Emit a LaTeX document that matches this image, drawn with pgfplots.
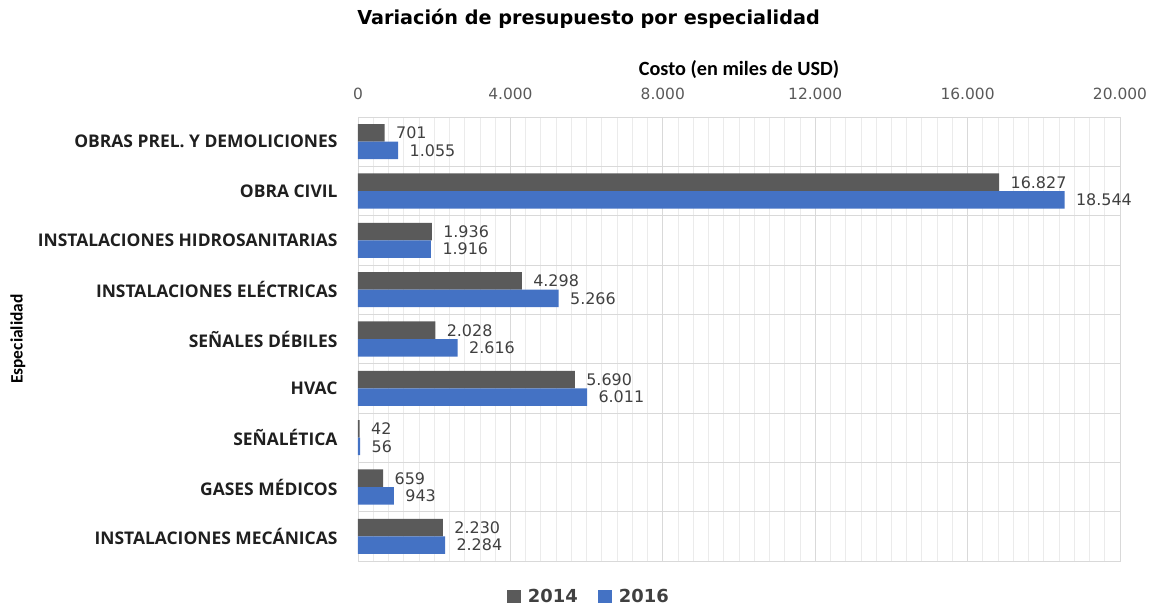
\documentclass[border=0pt]{standalone}
\usepackage{fontspec}
\setmainfont{DejaVu Sans}
\newfontfamily\osans{Open Sans}
\newfontfamily\carl{Carlito}
\usepackage{pgfplots}
\pgfplotsset{compat=1.18}
\definecolor{cgray}{HTML}{5A5A5A}
\definecolor{cblue}{HTML}{4472C4}
\definecolor{gmaj}{HTML}{D9D9D9}
\definecolor{gmin}{HTML}{EBEBEB}
\definecolor{tgray}{HTML}{595959}
\definecolor{vgray}{HTML}{404040}
\begin{document}
\begin{tikzpicture}
\path[use as bounding box] (-358bp,-44bp) rectangle (792bp,561bp);
\begin{axis}[
  at={(0,0)}, anchor=south west,
  scale only axis, width=762bp, height=444bp,
  xbar, bar width=0.355,
  y dir=reverse,
  xmin=0, xmax=20000, ymin=-0.5, ymax=8.5,
  xtick={0,4000,8000,12000,16000,20000},
  minor x tick num=9,
  xmajorgrids, xminorgrids,
  major grid style={gmaj, line width=0.8bp},
  minor grid style={gmin, line width=0.8bp},
  major tick length=0pt, minor tick length=0pt,
  scaled x ticks=false,
  xticklabel pos=upper,
  xticklabel style={font=\fontsize{15.5}{18}\selectfont, text=tgray, anchor=base, yshift=18bp,
     /pgf/number format/.cd, fixed, 1000 sep={.}, assume math mode=true},
  ytick={0,1,2,3,4,5,6,7,8},
  yticklabels={OBRAS PREL. Y DEMOLICIONES, OBRA CIVIL, INSTALACIONES HIDROSANITARIAS, INSTALACIONES ELÉCTRICAS, SEÑALES DÉBILES, HVAC, SEÑALÉTICA, GASES MÉDICOS, INSTALACIONES MECÁNICAS},
  yticklabel style={font=\osans\bfseries\fontsize{17.5}{20}\selectfont, text=black!88, anchor=east, xshift=-17bp},
  extra y ticks={0.5,1.5,2.5,3.5,4.5,5.5,6.5,7.5},
  extra y tick labels={},
  extra y tick style={ymajorgrids=true, major grid style={gmaj, line width=0.8bp}},
  axis line style={gmaj, line width=0.8bp},
  title={Variación de presupuesto por especialidad},
  title style={font=\bfseries\fontsize{19.3}{23}\selectfont, anchor=base west, at={(axis description cs:-0.0055,1.1959)}},
  xlabel={Costo (en miles de USD)},
  xlabel style={font=\carl\bfseries\fontsize{20.3}{23}\selectfont, anchor=center, at={(axis description cs:0.5,1.1059)}},
  ylabel={Especialidad},
  ylabel style={font=\carl\bfseries\fontsize{17.5}{20}\selectfont, anchor=center, rotate=0, at={(axis description cs:-0.4462,0.5)}},
  point meta=x,
  nodes near coords,
  nodes near coords style={font=\fontsize{16}{18}\selectfont, text=vgray, anchor=west, xshift=8bp,
     /pgf/number format/.cd, fixed, precision=0, 1000 sep={.}, assume math mode=true},
  legend columns=2,
  legend style={draw=none, fill=none, at={(axis description cs:0.303,-0.081)}, anchor=center,
     font=\bfseries\fontsize{18}{20}\selectfont, text=vgray,
     /tikz/every even column/.append style={column sep=18bp}},
  legend image code/.code={\fill[#1] (0bp,-6.5bp) rectangle (14bp,6.5bp); \path (19bp,0bp);},
  clip=false,
]
\addplot[fill=cgray, draw=none, bar shift=-0.1775] coordinates {
  (701,0) (16827,1) (1936,2) (4298,3) (2028,4) (5690,5) (42,6) (659,7) (2230,8)};
\addplot[fill=cblue, draw=none, bar shift=0.1775] coordinates {
  (1055,0) (18544,1) (1916,2) (5266,3) (2616,4) (6011,5) (56,6) (943,7) (2284,8)};
\legend{2014,2016}
\end{axis}
\end{tikzpicture}
\end{document}
